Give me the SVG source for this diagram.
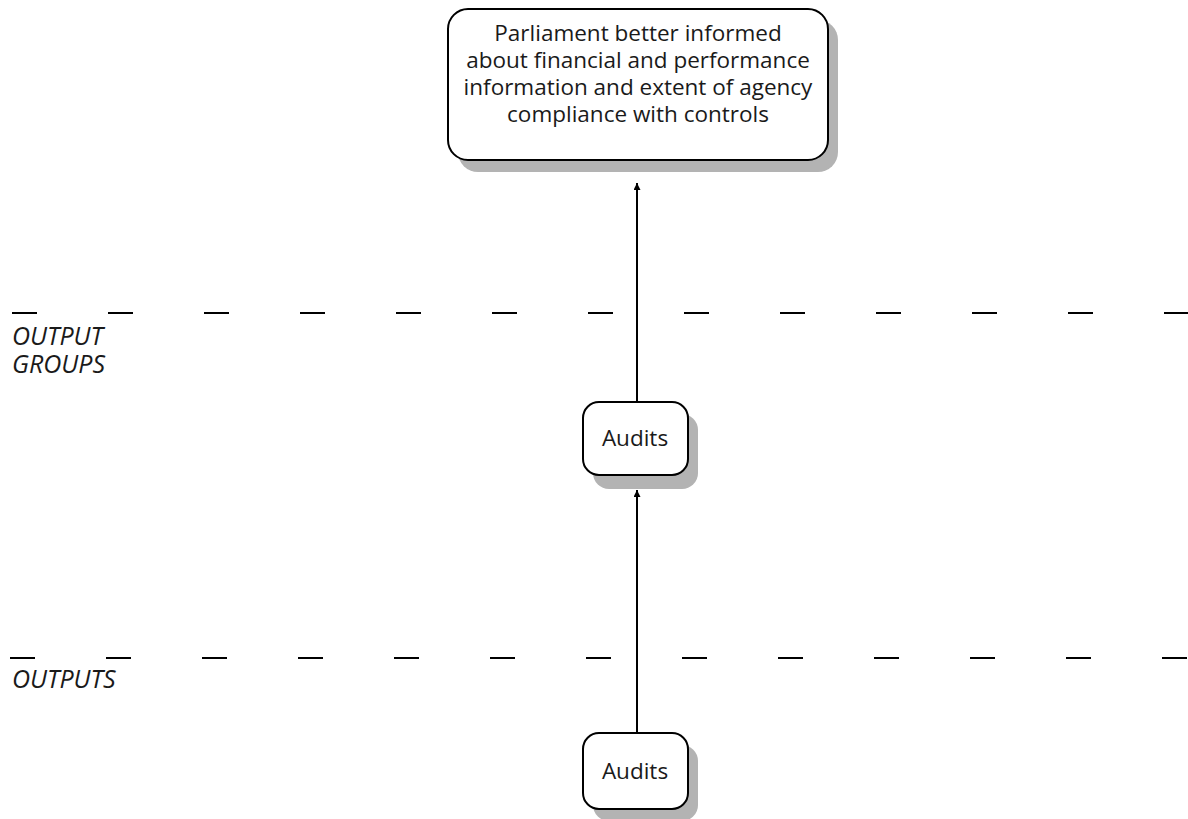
<svg xmlns="http://www.w3.org/2000/svg" width="1188" height="819" viewBox="0 0 1188 819">
  <style>
    .box { fill: #ffffff; stroke: #000000; stroke-width: 2; }
    .shadow { fill: #b3b3b3; stroke: none; }
    .label { font-family: "Open Sans", "Noto Sans", sans-serif; font-size: 22.5px; fill: #1a1a1a; text-anchor: middle; }
    .tier { font-family: "Open Sans", "Noto Sans", sans-serif; font-size: 25px; font-style: italic; fill: #1a1a1a; }
    .dash { stroke: #000000; stroke-width: 2; stroke-dasharray: 25 71; fill: none; }
    .link { stroke: #000000; stroke-width: 2; fill: none; }
  </style>
  <defs>
    <marker id="arrow" viewBox="0 0 10 10" refX="10" refY="5" markerWidth="11" markerHeight="7" orient="auto" markerUnits="userSpaceOnUse">
      <path d="M0,0 L10,5 L0,10 Z" fill="#000000"/>
    </marker>
  </defs>
  <rect width="1188" height="819" fill="#ffffff"/>

  <!-- tier separators -->
  <g id="separators">
    <line class="dash" x1="12" y1="313" x2="1188" y2="313"/>
    <line class="dash" x1="10" y1="658" x2="1188" y2="658"/>
  </g>

  <!-- tier labels -->
  <g id="tier-labels">
    <text class="tier" x="12" y="345">OUTPUT</text>
    <text class="tier" x="12" y="373">GROUPS</text>
    <text class="tier" x="12" y="688">OUTPUTS</text>
  </g>

  <!-- connectors -->
  <g id="connectors">
    <line class="link" x1="637" y1="402" x2="637" y2="183" marker-end="url(#arrow)"/>
    <line class="link" x1="637" y1="733" x2="637" y2="490" marker-end="url(#arrow)"/>
  </g>

  <!-- outcome -->
  <g id="outcome">
    <rect class="shadow" x="458" y="20" width="380" height="152" rx="20"/>
    <rect class="box" x="448" y="9" width="380" height="151" rx="20"/>
    <text class="label" x="638" y="41">Parliament better informed</text>
    <text class="label" x="638" y="68">about financial and performance</text>
    <text class="label" x="638" y="95">information and extent of agency</text>
    <text class="label" x="638" y="122">compliance with controls</text>
  </g>

  <!-- output group -->
  <g id="output-group">
    <rect class="shadow" x="593" y="414" width="105" height="75" rx="16"/>
    <rect class="box" x="583" y="402" width="105" height="73" rx="16"/>
    <text class="label" x="635" y="446">Audits</text>
  </g>

  <!-- output -->
  <g id="output">
    <rect class="shadow" x="593" y="745" width="105" height="76" rx="16"/>
    <rect class="box" x="583" y="733" width="105" height="76" rx="16"/>
    <text class="label" x="635" y="779">Audits</text>
  </g>
</svg>
